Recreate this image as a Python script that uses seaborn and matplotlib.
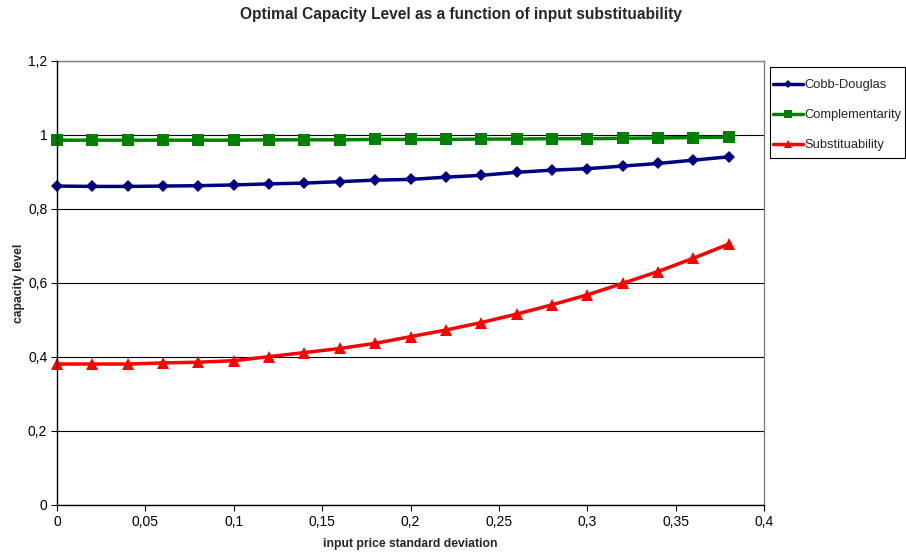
import matplotlib
matplotlib.use("Agg")
import matplotlib.pyplot as plt
import matplotlib.ticker as mticker
from matplotlib.lines import Line2D
from matplotlib.patches import Rectangle
import numpy as np
import pandas as pd
import seaborn as sns

# input price standard deviation (x) and optimal capacity levels for each technology
sigma = [0.00, 0.02, 0.04, 0.06, 0.08, 0.10, 0.12, 0.14, 0.16, 0.18,
         0.20, 0.22, 0.24, 0.26, 0.28, 0.30, 0.32, 0.34, 0.36, 0.38]
cobb_douglas = [0.862, 0.861, 0.861, 0.862, 0.863, 0.865, 0.868, 0.870, 0.874, 0.878,
                0.880, 0.886, 0.891, 0.899, 0.905, 0.909, 0.916, 0.923, 0.932, 0.941]
complementarity = [0.986, 0.986, 0.986, 0.986, 0.986, 0.986, 0.987, 0.987, 0.987, 0.988,
                   0.988, 0.988, 0.989, 0.989, 0.990, 0.990, 0.991, 0.992, 0.993, 0.994]
substituability = [0.381, 0.381, 0.381, 0.384, 0.386, 0.390, 0.401, 0.412, 0.423, 0.437,
                   0.455, 0.473, 0.493, 0.516, 0.541, 0.568, 0.599, 0.631, 0.667, 0.705]

series_names = ["Cobb-Douglas", "Complementarity", "Substituability"]
x_ticks = [0, 0.05, 0.1, 0.15, 0.2, 0.25, 0.3, 0.35, 0.4]
y_ticks = [0, 0.2, 0.4, 0.6, 0.8, 1.0, 1.2]

df = pd.concat([
    pd.DataFrame({"sigma": sigma, "capacity": vals, "series": name})
    for name, vals in zip(series_names, [cobb_douglas, complementarity, substituability])
])

sns.set_theme(style="white")
plt.rcParams["font.family"] = ["Liberation Sans", "DejaVu Sans"]

W, H = 906, 559
fig = plt.figure(figsize=(W / 100, H / 100), dpi=100)
ax = fig.add_axes([57 / W, 1 - 505 / H, (764 - 57) / W, (505 - 61) / H])

palette = {"Cobb-Douglas": "#000080", "Complementarity": "#008000", "Substituability": "#ff0000"}
markers = {"Cobb-Douglas": "D", "Complementarity": "s", "Substituability": "^"}
sizes = {"Cobb-Douglas": 6.6, "Complementarity": 9.2, "Substituability": 9.0}
legend_sizes = {"Cobb-Douglas": 4.5, "Complementarity": 6.3, "Substituability": 6.3}

for name in series_names:
    sub = df[df["series"] == name]
    sns.lineplot(data=sub, x="sigma", y="capacity", ax=ax, color=palette[name],
                 marker=markers[name], markersize=sizes[name], markeredgewidth=0,
                 linewidth=2.5, legend=False, zorder=3, clip_on=False)

ax.set_xlim(0, 0.4)
ax.set_ylim(0, 1.2)
ax.set_xticks(x_ticks)
ax.set_yticks(y_ticks)
fmt = mticker.FuncFormatter(lambda v, p: ("%g" % round(v, 3)).replace(".", ","))
ax.xaxis.set_major_formatter(fmt)
ax.yaxis.set_major_formatter(fmt)
ax.tick_params(axis="both", which="major", labelsize=10, colors="black",
               length=4, width=0.8, direction="out", pad=3)
ax.tick_params(bottom=True, left=True)

ax.grid(axis="y", color="black", linewidth=0.8)
ax.set_axisbelow(True)
for side in ["left", "bottom"]:
    ax.spines[side].set_color("black")
    ax.spines[side].set_linewidth(1.0)
for side in ["top", "right"]:
    ax.spines[side].set_color("#808080")
    ax.spines[side].set_linewidth(1.0)
ax.spines["left"].set_zorder(4)

ax.set_xlabel("input price standard deviation", fontsize=8.7, fontweight="bold", labelpad=7)
ax.set_ylabel("capacity level", fontsize=8.7, fontweight="bold", labelpad=2)
fig.suptitle("Optimal Capacity Level as a function of input substituability",
             x=461 / W, y=1 - 14 / H, va="center", fontsize=11.2, fontweight="bold")

# legend frame drawn as a figure rectangle, entries placed inside it
fig.patches.append(Rectangle((770 / W, 1 - 158 / H), (905 - 770) / W, (158 - 67) / H,
                             transform=fig.transFigure, facecolor="white",
                             edgecolor="black", linewidth=0.8, zorder=1))
handles = [Line2D([], [], color=palette[n], marker=markers[n], markersize=legend_sizes[n],
                  markeredgewidth=0, linewidth=2.5) for n in series_names]
leg = fig.legend(handles, series_names, loc="upper left",
                 bbox_to_anchor=(773 / W, 1 - 79 / H), fontsize=9.3,
                 frameon=False, handlelength=2.3, handletextpad=0.1,
                 labelspacing=1.4, borderpad=0, borderaxespad=0)
leg.set_zorder(2)

fig.savefig("out.png", dpi=100, facecolor="white")
